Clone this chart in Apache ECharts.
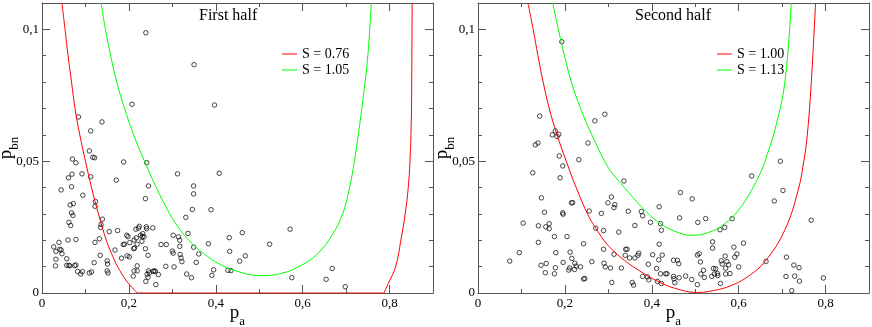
<!DOCTYPE html>
<html>
<head>
<meta charset="utf-8">
<script src="https://cdn.jsdelivr.net/npm/echarts@6/dist/echarts.min.js"></script>
<style>
  html, body { margin: 0; padding: 0; background: #fff; }
  #chart { width: 872px; height: 327px; }
</style>
</head>
<body>
<div id="chart"></div>
<script>
  // tick labels
  const xMajor = [0, 0.2, 0.4, 0.6, 0.8];
  const yMajor = [0, 0.05, 0.1];
  const panelTitles = ['First half', 'Second half'];
  const redNames = ['S = 0.76', 'S = 1.00'];
  const greenNames = ['S = 1.05', 'S = 1.13'];

  // measured points [p_a, p_bn]
  const firstHalfPoints = [
    [0.207,0.0716],[0.084,0.0668],[0.138,0.0649],[0.112,0.0615],[0.109,0.0539],[0.117,0.0515],[0.121,0.0513],
    [0.070,0.0508],[0.078,0.0494],[0.188,0.0497],[0.241,0.0494],[0.069,0.0451],[0.092,0.0452],[0.061,0.0437],
    [0.112,0.0441],[0.171,0.0428],[0.068,0.0403],[0.044,0.0391],[0.245,0.0406],[0.094,0.0371],[0.238,0.0358],
    [0.123,0.0347],[0.122,0.0329],[0.072,0.0339],[0.065,0.0334],[0.068,0.0304],[0.071,0.0294],[0.139,0.0280],
    [0.062,0.0268],[0.066,0.0256],[0.136,0.0260],[0.135,0.0249],[0.155,0.0233],[0.174,0.0237],[0.132,0.0206],
    [0.122,0.0192],[0.078,0.0203],[0.060,0.0201],[0.039,0.0192],[0.027,0.0175],[0.032,0.0158],[0.041,0.0166],
    [0.044,0.0163],[0.046,0.0149],[0.057,0.0130],[0.032,0.0128],[0.031,0.0103],[0.057,0.0105],[0.062,0.0105],
    [0.064,0.0103],[0.075,0.0104],[0.078,0.0106],[0.082,0.0082],[0.089,0.0072],[0.093,0.0081],[0.109,0.0076],
    [0.114,0.0080],[0.120,0.0115],[0.134,0.0143],[0.150,0.0122],[0.151,0.0110],[0.150,0.0084],[0.152,0.0076],
    [0.168,0.0163],[0.183,0.0132],[0.187,0.0184],[0.190,0.0185],[0.195,0.0219],[0.198,0.0214],[0.196,0.0141],
    [0.201,0.0137],[0.202,0.0191],[0.211,0.0168],[0.213,0.0171],[0.212,0.0201],[0.216,0.0242],[0.217,0.0209],
    [0.219,0.0185],[0.219,0.0103],[0.224,0.0253],[0.222,0.0246],[0.227,0.0219],[0.230,0.0196],[0.231,0.0214],
    [0.232,0.0225],[0.235,0.0213],[0.240,0.0251],[0.241,0.0244],[0.238,0.0168],[0.244,0.0143],[0.255,0.0247],
    [0.274,0.0184],[0.286,0.0184],[0.285,0.0101],[0.212,0.0084],[0.210,0.0064],[0.219,0.0084],[0.245,0.0084],
    [0.247,0.0076],[0.256,0.0082],[0.258,0.0084],[0.261,0.0082],[0.268,0.0070],[0.242,0.0071],[0.244,0.0060],
    [0.239,0.0044],[0.262,0.0032],[0.239,0.0987],[0.350,0.0866],
    [0.397,0.0713],[0.312,0.0452],[0.408,0.0454],[0.349,0.0406],[0.349,0.0376],[0.346,0.0317],[0.389,0.0316],
    [0.331,0.0287],[0.336,0.0226],[0.302,0.0219],[0.314,0.0213],[0.317,0.0200],[0.317,0.0177],[0.300,0.0159],
    [0.302,0.0151],[0.318,0.0146],[0.320,0.0133],[0.322,0.0119],[0.304,0.0099],[0.349,0.0174],[0.361,0.0148],
    [0.355,0.0116],[0.333,0.0072],[0.344,0.0058],[0.383,0.0187],[0.431,0.0210],[0.432,0.0158],[0.461,0.0229],
    [0.468,0.0141],[0.455,0.0121],[0.395,0.0088],[0.391,0.0067],[0.428,0.0086],[0.435,0.0085],[0.524,0.0185],
    [0.571,0.0242],[0.575,0.0058],[0.654,0.0052],[0.668,0.0093],[0.698,0.0024]
  ];

  const secondHalfPoints = [
    [0.142,0.0671],[0.292,0.0678],[0.269,0.0653],[0.178,0.0615],[0.186,0.0602],[0.171,0.0600],[0.182,0.0594],
    [0.138,0.0569],[0.132,0.0562],[0.253,0.0569],[0.187,0.0520],[0.232,0.0506],[0.195,0.0482],[0.126,0.0456],
    [0.189,0.0437],[0.146,0.0361],[0.215,0.0342],[0.218,0.0343],[0.153,0.0306],[0.195,0.0304],[0.196,0.0299],
    [0.256,0.0311],[0.284,0.0302],[0.307,0.0364],[0.299,0.0342],[0.315,0.0335],[0.313,0.0324],[0.104,0.0265],
    [0.139,0.0255],[0.164,0.0263],[0.156,0.0251],[0.164,0.0244],[0.271,0.0246],[0.289,0.0237],[0.176,0.0214],
    [0.205,0.0214],[0.139,0.0192],[0.243,0.0187],[0.289,0.0166],[0.313,0.0147],[0.095,0.0153],[0.073,0.0121],
    [0.179,0.0153],[0.212,0.0155],[0.216,0.0131],[0.262,0.0119],[0.145,0.0105],[0.157,0.0112],[0.178,0.0096],
    [0.196,0.0116],[0.211,0.0095],[0.209,0.0087],[0.223,0.0113],[0.226,0.0102],[0.222,0.0089],[0.236,0.0099],
    [0.290,0.0113],[0.293,0.0099],[0.305,0.0095],[0.155,0.0077],[0.176,0.0073],[0.243,0.0053],[0.246,0.0055],
    [0.308,0.0040],[0.193,0.0953],
    [0.336,0.0425],[0.346,0.0310],[0.376,0.0309],[0.379,0.0293],[0.417,0.0327],[0.466,0.0381],[0.493,0.0357],
    [0.464,0.0285],[0.397,0.0268],[0.420,0.0263],[0.361,0.0256],[0.422,0.0238],[0.506,0.0268],[0.524,0.0282],
    [0.557,0.0240],[0.568,0.0249],[0.585,0.0282],[0.324,0.0231],[0.340,0.0166],[0.343,0.0166],[0.339,0.0143],
    [0.349,0.0133],[0.361,0.0133],[0.370,0.0151],[0.368,0.0143],[0.417,0.0185],[0.402,0.0145],[0.424,0.0144],
    [0.416,0.0126],[0.392,0.0109],[0.411,0.0093],[0.450,0.0124],[0.459,0.0124],[0.462,0.0111],[0.432,0.0073],
    [0.435,0.0073],[0.420,0.0073],[0.450,0.0063],[0.451,0.0054],[0.463,0.0058],[0.478,0.0064],[0.492,0.0051],
    [0.505,0.0032],[0.453,0.0039],[0.413,0.0044],[0.422,0.0036],[0.379,0.0063],[0.390,0.0061],[0.393,0.0050],
    [0.355,0.0040],[0.358,0.0030],[0.330,0.0095],[0.505,0.0144],[0.509,0.0149],[0.512,0.0118],[0.513,0.0072],
    [0.519,0.0086],[0.521,0.0059],[0.540,0.0194],[0.540,0.0170],[0.538,0.0063],[0.542,0.0093],[0.547,0.0092],
    [0.551,0.0074],[0.552,0.0066],[0.544,0.0072],[0.558,0.0036],[0.560,0.0122],[0.562,0.0110],[0.569,0.0140],
    [0.570,0.0094],[0.570,0.0072],[0.573,0.0119],[0.577,0.0107],[0.580,0.0074],[0.589,0.0174],[0.591,0.0136],
    [0.596,0.0148],[0.600,0.0099],[0.611,0.0189],
    [0.696,0.0500],[0.630,0.0444],[0.702,0.0389],[0.682,0.0349],[0.767,0.0276],[0.710,0.0136],[0.727,0.0106],
    [0.739,0.0096],[0.709,0.0063],[0.729,0.0064],[0.740,0.0045],[0.795,0.0057],[0.722,0.0009],[0.663,0.0120]
  ];

  // bound curves [p_a, p_bn]
  // first-half red bound: falling branch, zero stretch along the axis, rising branch
  const redFirstLeft = [
    [0.046,0.110],[0.053,0.100],[0.060,0.090],[0.068,0.080],[0.076,0.070],[0.087,0.060],
    [0.100,0.050],[0.114,0.040],[0.130,0.030],[0.148,0.020],[0.160,0.015],[0.174,0.010],[0.195,0.0045],
    [0.219,0]
  ];
  const redFirstZero = [[0.219,0],[0.787,0]];
  const redFirstRight = [
    [0.787,0],[0.797,0.0036],[0.814,0.010],[0.826,0.020],[0.836,0.030],[0.843,0.040],
    [0.847,0.050],[0.850,0.065],[0.851,0.080],[0.852,0.110]
  ];
  const greenFirst = [
    [0.136,0.110],[0.146,0.100],[0.158,0.090],[0.172,0.080],[0.190,0.070],[0.211,0.060],[0.236,0.050],
    [0.263,0.040],[0.294,0.030],[0.318,0.024],[0.338,0.0200],[0.372,0.0150],[0.410,0.0108],[0.450,0.0082],
    [0.500,0.0066],[0.550,0.0074],[0.597,0.0105],[0.635,0.0150],[0.668,0.0220],[0.692,0.030],[0.708,0.040],
    [0.719,0.050],[0.728,0.060],[0.740,0.075],[0.750,0.090],[0.758,0.110]
  ];
  const redSecond = [
    [0.115,0.110],[0.127,0.100],[0.138,0.090],[0.150,0.080],[0.164,0.070],[0.182,0.060],[0.203,0.050],
    [0.226,0.040],[0.252,0.030],[0.271,0.0246],[0.299,0.0181],[0.337,0.0124],[0.376,0.0080],[0.414,0.0044],
    [0.453,0.0018],[0.503,0.0002],[0.553,0.0013],[0.591,0.0034],[0.622,0.0063],[0.660,0.0118],[0.706,0.0238],
    [0.737,0.039],[0.750,0.050],[0.758,0.060],[0.767,0.0795],[0.777,0.110]
  ];
  const greenSecond = [
    [0.172,0.110],[0.185,0.100],[0.199,0.090],[0.215,0.080],[0.236,0.070],[0.262,0.060],[0.298,0.0480],
    [0.320,0.0432],[0.337,0.0400],[0.376,0.0327],[0.414,0.0270],[0.453,0.0234],[0.491,0.0219],[0.530,0.0229],
    [0.568,0.0263],[0.600,0.0315],[0.628,0.0385],[0.656,0.0478],[0.669,0.0542],[0.683,0.0615],[0.706,0.0795],
    [0.721,0.110]
  ];

  const FONT = 'Liberation Serif';
  const AXIS_COLOR = '#555';
  const fmt = v => String(+v.toFixed(2)).replace('.', ',');

  const panelLeft = [42, 478];
  const legendLeft = [277, 712];
  const titleLeft = [194, 630];
  const points = [firstHalfPoints, secondHalfPoints];
  const reds = [[redFirstLeft, redFirstZero, redFirstRight], [redSecond]];
  const greens = [greenFirst, greenSecond];

  // grids 0,1 carry the data and short ticks; grids 2,3 sit on top for the long ticks
  const grids = [];
  for (let k = 0; k < 4; k++) {
    grids.push({ left: panelLeft[k % 2], top: 3, width: 391, height: 290, outerBoundsMode: 'none', containLabel: false });
  }

  const nameStyle = {
    fontFamily: FONT, color: '#000',
    rich: {
      p: { fontFamily: FONT, fontSize: 19, lineHeight: 22, verticalAlign: 'top', color: '#000' },
      s: { fontFamily: FONT, fontSize: 13, lineHeight: 36, verticalAlign: 'middle', color: '#000' }
    }
  };

  const xAxes = [], yAxes = [];
  for (let k = 0; k < 4; k++) {
    const main = k < 2;
    ['bottom', 'top'].forEach(pos => {
      const labelled = main && pos === 'bottom';
      xAxes.push({
        type: 'value', gridIndex: k, position: pos, min: 0, max: 0.9, interval: 0.1,
        axisLine: { show: main, onZero: false, lineStyle: { color: AXIS_COLOR, width: 1 } },
        axisTick: main
          ? { inside: true, length: 4, lineStyle: { color: AXIS_COLOR } }
          : { inside: true, length: 8, customValues: xMajor, lineStyle: { color: AXIS_COLOR } },
        axisLabel: labelled
          ? { customValues: xMajor, formatter: fmt, margin: 4, fontFamily: FONT, fontSize: 13, color: '#000' }
          : { show: false },
        splitLine: { show: false },
        name: labelled ? '{p|p}{s|a}' : '',
        nameLocation: 'middle', nameGap: 11, nameMoveOverlap: false, nameTextStyle: nameStyle
      });
    });
    ['left', 'right'].forEach(pos => {
      const labelled = main && pos === 'left';
      yAxes.push({
        type: 'value', gridIndex: k, position: pos, min: 0, max: 0.11, interval: 0.01,
        axisLine: { show: main, onZero: false, lineStyle: { color: AXIS_COLOR, width: 1 } },
        axisTick: main
          ? { inside: true, length: 4, lineStyle: { color: AXIS_COLOR } }
          : { inside: true, length: 8, customValues: yMajor, lineStyle: { color: AXIS_COLOR } },
        axisLabel: labelled
          ? { customValues: yMajor, formatter: fmt, margin: 3, fontFamily: FONT, fontSize: 13, color: '#000' }
          : { show: false },
        splitLine: { show: false },
        name: labelled ? '{p|p}{s|bn}' : '',
        nameLocation: 'middle', nameGap: 9, nameMoveOverlap: false, nameTextStyle: nameStyle
      });
    });
  }

  function curve(name, data, color, i) {
    return {
      type: 'line', name: name, xAxisIndex: 2 * i, yAxisIndex: 2 * i,
      data: data, symbol: 'none', showSymbol: false, smooth: 0.4, clip: true,
      lineStyle: { color: color, width: 1 }, itemStyle: { color: color }
    };
  }

  const series = [];
  for (let i = 0; i < 2; i++) {
    series.push({
      type: 'scatter', xAxisIndex: 2 * i, yAxisIndex: 2 * i,
      data: points[i], symbol: 'circle', symbolSize: 4.5,
      itemStyle: { color: 'rgba(0,0,0,0)', borderColor: '#000', borderWidth: 0.9 },
      silent: true
    });
    reds[i].forEach(part => series.push(curve(redNames[i], part, '#ff0000', i)));
    series.push(curve(greenNames[i], greens[i], '#00ff00', i));
  }

  const chart = echarts.init(document.getElementById('chart'));
  chart.setOption({
    animation: false,
    backgroundColor: '#fff',
    title: panelTitles.map((t, i) => ({
      text: t, left: titleLeft[i], top: 3,
      textStyle: { fontFamily: FONT, fontSize: 16, fontWeight: 'normal', color: '#000' }
    })),
    legend: [0, 1].map(i => ({
      data: [redNames[i], greenNames[i]],
      left: legendLeft[i], top: 42, orient: 'vertical',
      icon: 'path://M0,0H15V1H0Z',
      itemWidth: 15, itemHeight: 14, itemGap: 2,
      textStyle: { fontFamily: FONT, fontSize: 14, color: '#000' }
    })),
    grid: grids,
    xAxis: xAxes,
    yAxis: yAxes,
    series: series
  });
</script>
</body>
</html>
